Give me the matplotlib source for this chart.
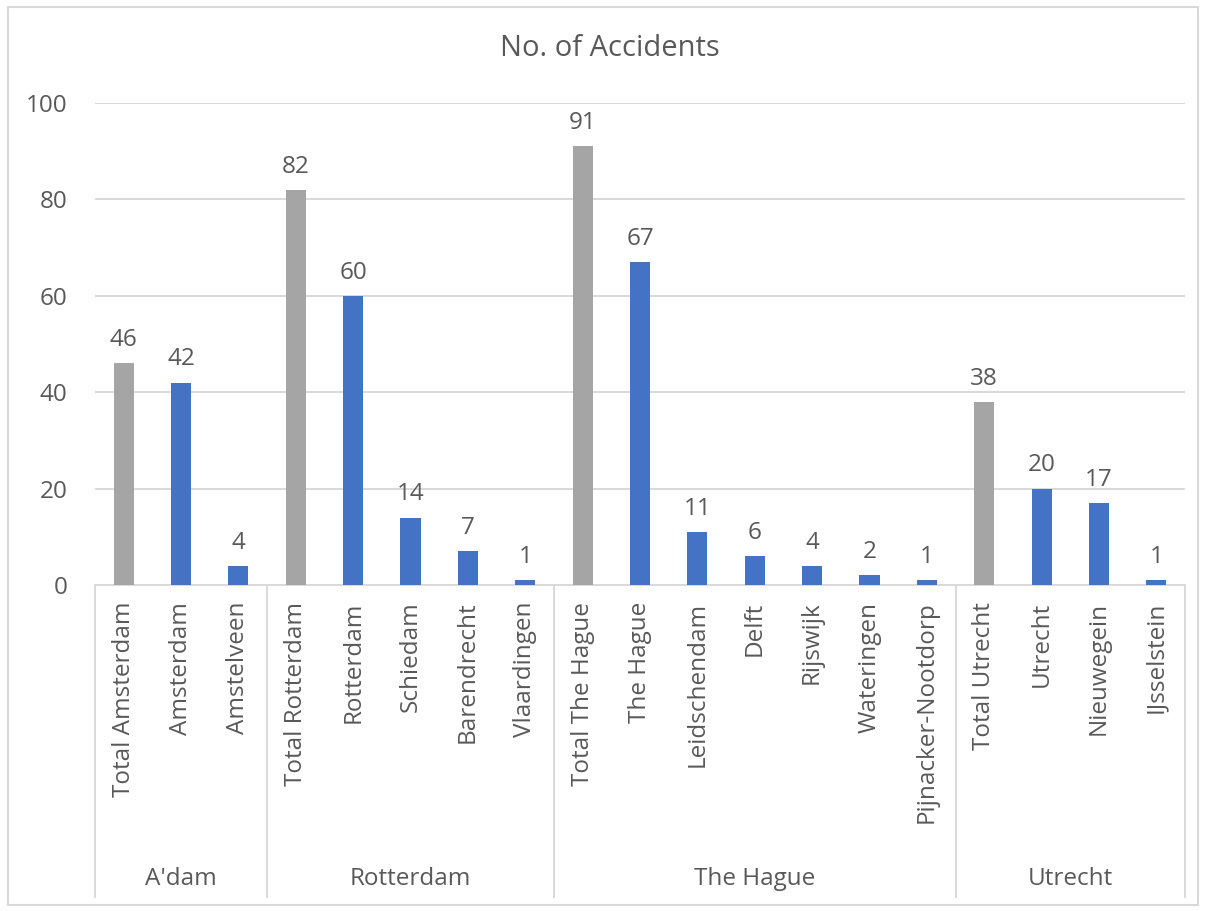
import numpy as np
import matplotlib.pyplot as plt
from matplotlib.patches import Rectangle
import matplotlib.transforms as mtransforms

plt.rcParams['font.family'] = ['Open Sans', 'DejaVu Sans']

# data
places = ["Total Amsterdam", "Amsterdam", "Amstelveen",
          "Total Rotterdam", "Rotterdam", "Schiedam", "Barendrecht", "Vlaardingen",
          "Total The Hague", "The Hague", "Leidschendam", "Delft", "Rijswijk",
          "Wateringen", "Pijnacker-Nootdorp",
          "Total Utrecht", "Utrecht", "Nieuwegein", "IJsselstein"]
accidents = [46, 42, 4,
             82, 60, 14, 7, 1,
             91, 67, 11, 6, 4, 2, 1,
             38, 20, 17, 1]
groups = ["A'dam", "Rotterdam", "The Hague", "Utrecht"]
group_sizes = [3, 5, 7, 4]

txt = "#595959"
grid = "#D9D9D9"
grey = "#A5A5A5"
blue = "#4472C4"
fs = 17.5

fig = plt.figure(figsize=(12.08, 9.11), dpi=100)
ax = fig.add_axes([95/1208, 1-585/911, 1090/1208, 482/911])

x = np.arange(len(places))
cols = [grey if p.startswith("Total") else blue for p in places]
bars = ax.bar(x, accidents, width=0.35, color=cols, zorder=3)
ax.bar_label(bars, padding=8, fontsize=fs, color=txt)

ax.set_xlim(-0.5, len(places)-0.5)
ax.set_ylim(0, 100)
ax.set_yticks(np.arange(0, 101, 20))
ax.yaxis.grid(True, color=grid, lw=1.4, zorder=0)
for s in ["top", "right", "left"]:
    ax.spines[s].set_visible(False)
ax.spines["bottom"].set_color(grid)
ax.spines["bottom"].set_linewidth(1.4)
ax.tick_params(axis='y', length=0, pad=20, labelsize=fs, labelcolor=txt)
ax.set_xticks(x)
ax.set_xticklabels(places, rotation=90, va='top', ha='center')
ax.tick_params(axis='x', length=0, pad=12, labelsize=fs, labelcolor=txt)

# group separators + group names under the tick labels
trans = mtransforms.blended_transform_factory(ax.transData, ax.transAxes)
edges = np.concatenate([[0], np.cumsum(group_sizes)]) - 0.5
for e in edges:
    ax.plot([e, e], [0, -0.647], color=grid, lw=1.4, transform=trans, clip_on=False)
for g, a, b in zip(groups, edges[:-1], edges[1:]):
    ax.text((a+b)/2, -0.61, g, transform=trans, ha='center', va='center',
            fontsize=fs, color=txt)

fig.text(610/1208, 1-49/911, "No. of Accidents", ha='center', va='center',
         fontsize=21, color=txt)

# outer chart border
fig.patches.append(Rectangle((8/1208, 1-905/911), 1190/1208, 898/911,
                             transform=fig.transFigure, fill=False,
                             edgecolor=grid, lw=1.5))

fig.savefig("out.png", dpi=100)
